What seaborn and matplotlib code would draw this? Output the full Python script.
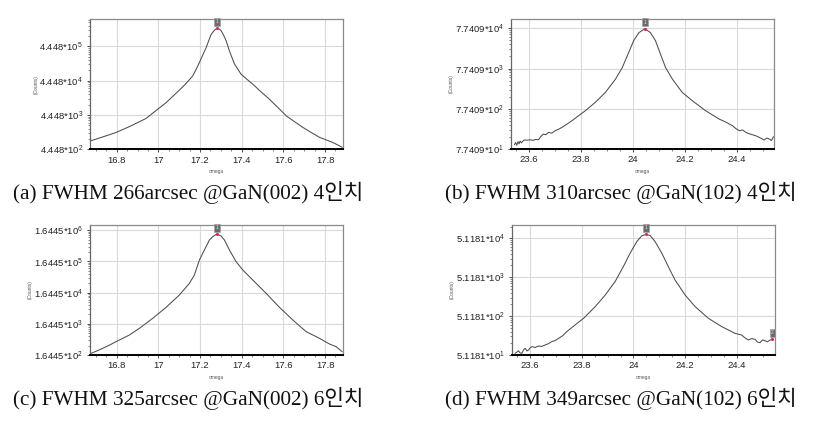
import matplotlib
matplotlib.use('Agg')
import matplotlib.pyplot as plt
import seaborn as sns
from matplotlib.ticker import FixedLocator, FixedFormatter, NullFormatter

sns.set_style('white')
plt.rcParams['font.family'] = ['Liberation Sans', 'DejaVu Sans']
plt.rcParams['mathtext.fontset'] = 'custom'
plt.rcParams['mathtext.rm'] = 'Liberation Sans'
plt.rcParams['mathtext.it'] = 'Liberation Sans:italic'
plt.rcParams['mathtext.bf'] = 'Liberation Sans:bold'

# ---------------- data ----------------
captions = ["(a) FWHM 266arcsec @GaN(002) 4인치",
            "(b) FWHM 310arcsec @GaN(102) 4인치",
            "(c) FWHM 325arcsec @GaN(002) 6인치",
            "(d) FWHM 349arcsec @GaN(102) 6인치"]

a_x = [16.677, 16.737, 16.797, 16.869, 16.941, 16.989, 17.037, 17.077, 17.117, 17.141,
       17.165, 17.181, 17.197, 17.213, 17.229, 17.241, 17.253, 17.269, 17.281, 17.291,
       17.301, 17.313, 17.325, 17.341, 17.365, 17.397, 17.425, 17.453, 17.493, 17.533,
       17.573, 17.613, 17.653, 17.693, 17.733, 17.773, 17.837, 17.882]
a_y = [791, 1040, 1374, 2150, 3533, 6000, 10190, 17300, 29390, 42000,
       61390, 95000, 150700, 250000, 405700, 640000, 995900, 1312600, 1507000, 1450000,
       1282800, 950000, 657900, 329700, 137400, 68900, 49000, 35330, 21000, 12830,
       7400, 4248, 2850, 1942, 1380, 996, 705, 511]

b_x = [23.543, 23.548, 23.552, 23.557, 23.561, 23.565, 23.570, 23.578, 23.584, 23.592,
       23.603, 23.615, 23.625, 23.636, 23.645, 23.655, 23.664, 23.674, 23.687, 23.700,
       23.713, 23.726, 23.745, 23.764, 23.790, 23.816, 23.854, 23.893, 23.932, 23.958,
       23.983, 24.002, 24.022, 24.045, 24.067, 24.086, 24.105, 24.125, 24.151, 24.189,
       24.228, 24.279, 24.331, 24.357, 24.382, 24.395, 24.408, 24.421, 24.434, 24.447,
       24.459, 24.472, 24.485, 24.495, 24.504, 24.514, 24.524, 24.532, 24.540]
b_y = [99, 112, 96, 118, 104, 122, 110, 126, 130, 128,
       131, 127, 134, 132, 160, 182, 175, 200, 192, 221,
       240, 266, 320, 388, 519, 690, 1111, 1967, 4215, 8105,
       19445, 37915, 60085, 75645, 60085, 37915, 17734, 8105, 4215, 1967,
       1221, 690, 429, 360, 294, 250, 221, 230, 200, 185,
       175, 165, 151, 140, 129, 145, 137, 125, 157]

c_x = [16.677, 16.705, 16.733, 16.765, 16.797, 16.829, 16.861, 16.909, 16.973, 17.037,
       17.101, 17.149, 17.173, 17.197, 17.221, 17.245, 17.261, 17.281, 17.301, 17.317,
       17.341, 17.373, 17.405, 17.453, 17.517, 17.581, 17.645, 17.709, 17.773, 17.821,
       17.853, 17.882]
c_y = [186, 222, 269, 340, 441, 560, 721, 1180, 2467, 5560,
       13837, 32810, 60680, 183700, 384700, 805500, 1030400, 1253300, 1081600, 805500,
       384700, 162600, 87700, 41885, 15669, 5560, 2183, 923, 564, 371,
       304, 210]

d_x = [23.542, 23.548, 23.555, 23.561, 23.568, 23.575, 23.581, 23.588, 23.594, 23.600,
       23.607, 23.620, 23.632, 23.645, 23.658, 23.671, 23.684, 23.697, 23.710, 23.726,
       23.742, 23.774, 23.807, 23.852, 23.891, 23.929, 23.961, 23.987, 24.013, 24.032,
       24.048, 24.065, 24.084, 24.110, 24.135, 24.161, 24.200, 24.239, 24.290, 24.342,
       24.393, 24.406, 24.419, 24.432, 24.445, 24.458, 24.471, 24.480, 24.490, 24.500,
       24.509, 24.519, 24.529, 24.538]
d_y = [56.5, 60, 66, 58, 56.5, 70, 76, 65, 69, 78,
       84, 80, 87, 85, 92.5, 100, 113, 120, 137, 160,
       204, 302, 449, 894, 1783, 3928, 9551, 21041, 41892, 58653,
       64744, 59857, 41892, 21041, 9551, 4336, 1783, 894, 449, 274,
       185, 175, 167, 140, 125, 135, 129, 110, 106, 125,
       119, 112, 124, 132]

a_bases = ("4.448", 4.448)
b_bases = ("7.7409", 7.7409)
c_bases = ("1.6445", 1.6445)
d_bases = ("5.1181", 5.1181)

a_exps = [2, 3, 4, 5]
b_exps = [1, 2, 3, 4]
c_exps = [2, 3, 4, 5, 6]
d_exps = [1, 2, 3, 4]

x_ticks_002 = [16.8, 17.0, 17.2, 17.4, 17.6, 17.8]
x_labels_002 = ['16.8', '17', '17.2', '17.4', '17.6', '17.8']
x_ticks_102 = [23.6, 23.8, 24.0, 24.2, 24.4]
x_labels_102 = ['23.6', '23.8', '24', '24.2', '24.4']

# markers: (label, x, y)
a_marks = [("1", 17.281, 1507000)]
b_marks = [("1", 24.045, 75645)]
c_marks = [("1", 17.281, 1253300)]
d_marks = [("1", 24.048, 64744), ("2", 24.538, 132)]

# ---------------- layout ----------------
W, H = 825, 423
def rect(l, r, t, b):
    return [l / W, 1 - b / H, (r - l) / W, (b - t) / H]

panels = [
    dict(x=a_x, y=a_y, base=a_bases, exps=a_exps, rect=rect(90, 343, 19, 149.3),
         xlim=(16.672, 17.886), ylim=(444.8, 2.807e6), xt=x_ticks_002, xl=x_labels_002,
         minor_lo=16.65, marks=a_marks, cap=captions[0], cap_xy=(12.7, 199.3)),
    dict(x=b_x, y=b_y, base=b_bases, exps=b_exps, rect=rect(511, 774, 19, 149),
         xlim=(23.53, 24.542), ylim=(77.409, 131440), xt=x_ticks_102, xl=x_labels_102,
         minor_lo=23.5, marks=b_marks, cap=captions[1], cap_xy=(445, 199.3)),
    dict(x=c_x, y=c_y, base=c_bases, exps=c_exps, rect=rect(90, 343, 225, 355),
         xlim=(16.672, 17.886), ylim=(164.45, 2.432e6), xt=x_ticks_002, xl=x_labels_002,
         minor_lo=16.65, marks=c_marks, cap=captions[2], cap_xy=(12.7, 405)),
    dict(x=d_x, y=d_y, base=d_bases, exps=d_exps, rect=rect(512, 775, 225, 355),
         xlim=(23.53, 24.548), ylim=(51.181, 111990), xt=x_ticks_102, xl=x_labels_102,
         minor_lo=23.5, marks=d_marks, cap=captions[3], cap_xy=(445, 405)),
]

fig = plt.figure(figsize=(W / 100, H / 100), dpi=100)

for p in panels:
    ax = fig.add_axes(p['rect'])
    ax.set_facecolor('white')
    sns.lineplot(x=p['x'], y=p['y'], ax=ax, color='#4d4d4d', linewidth=0.75,
                 sort=False, estimator=None, errorbar=None)
    ax.set_yscale('log')
    ax.set_xlim(*p['xlim'])
    ax.set_ylim(*p['ylim'])

    bstr, bval = p['base']
    yt = [bval * 10 ** e for e in p['exps']]
    ax.yaxis.set_major_locator(FixedLocator(yt))
    ax.yaxis.set_major_formatter(FixedFormatter([f'{bstr}*10$^{{{e}}}$' for e in p['exps']]))
    ymin = []
    for e in range(p['exps'][0] - 1, p['exps'][-1] + 1):
        for k in range(2, 10):
            v = bval * k * 10 ** e
            if p['ylim'][0] < v < p['ylim'][1]:
                ymin.append(v)
    ax.yaxis.set_minor_locator(FixedLocator(ymin))
    ax.yaxis.set_minor_formatter(NullFormatter())

    ax.xaxis.set_major_locator(FixedLocator(p['xt']))
    ax.xaxis.set_major_formatter(FixedFormatter(p['xl']))
    xm = [round(p['minor_lo'] + 0.05 * i, 3) for i in range(30)]
    xm = [v for v in xm if p['xlim'][0] < v < p['xlim'][1]]
    ax.xaxis.set_minor_locator(FixedLocator(xm))
    ax.xaxis.set_minor_formatter(NullFormatter())

    ax.grid(True, which='major', color='#dadada', linewidth=0.8)
    ax.set_axisbelow(True)
    ax.tick_params(which='major', direction='out', length=2.5, width=0.6, colors='#333333',
                   labelsize=6.8, labelcolor='#222222', left=True, bottom=True)
    ax.tick_params(which='minor', direction='out', length=1.5, width=0.5, colors='#555555',
                   left=True, bottom=True)
    ax.tick_params(axis='x', pad=2)
    ax.tick_params(axis='y', pad=2.5)

    for s in ['top', 'right']:
        ax.spines[s].set_color('#8a8a8a')
        ax.spines[s].set_linewidth(0.9)
    ax.spines['left'].set_color('#666666')
    ax.spines['left'].set_linewidth(0.9)
    ax.spines['bottom'].set_color('#000000')
    ax.spines['bottom'].set_linewidth(1.4)

    ax.set_ylabel('(Counts)', fontsize=3.5, color='#555555', labelpad=0.8)
    ax.set_xlabel('omega', fontsize=3.5, color='#555555')
    ax.xaxis.set_label_coords(0.5, -0.15)

    for lab, mx, my in p['marks']:
        sns.scatterplot(x=[mx], y=[my], ax=ax, color='#d8246a', s=5, linewidth=0, zorder=5)
        ax.annotate(lab, xy=(mx, my), xytext=(0, 4.6), textcoords='offset points',
                    ha='center', va='center', fontsize=3.5, color='#e8e8e8',
                    bbox=dict(boxstyle='square,pad=0.3', fc='#6b6b6b', ec='#a0a0a0', lw=0.5),
                    annotation_clip=False, zorder=6)

    cx, cy = p['cap_xy']
    fig.text(cx / W, 1 - cy / H, p['cap'], fontsize=15.3, va='baseline', ha='left',
             family=['Liberation Serif', 'Noto Sans CJK KR'], color='#111111')

fig.savefig('out.png', dpi=100)
